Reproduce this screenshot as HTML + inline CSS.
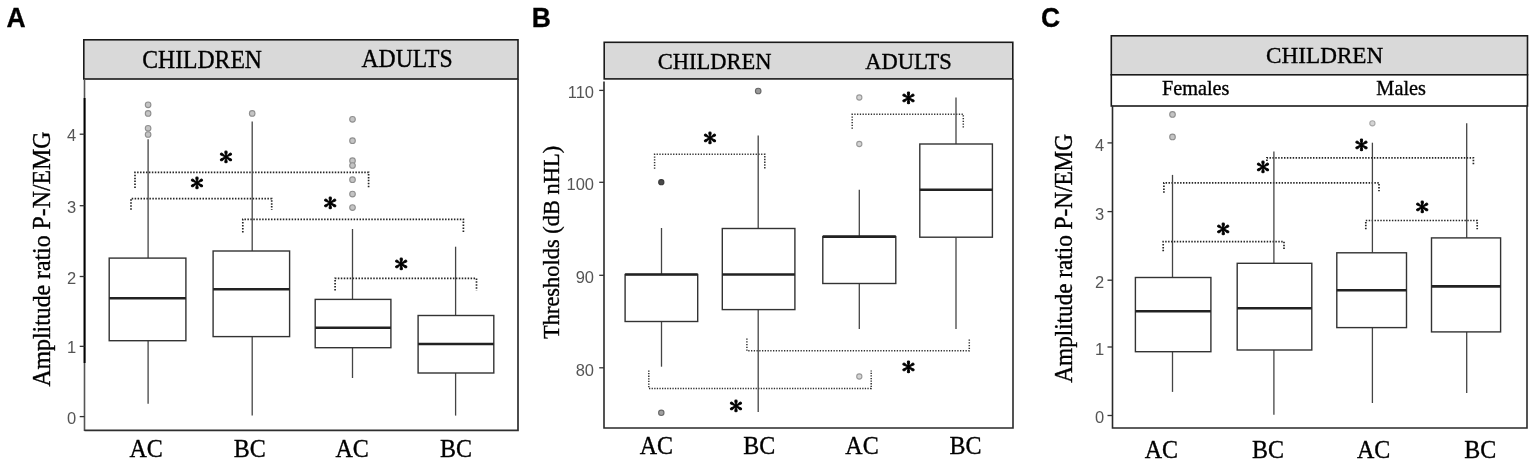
<!DOCTYPE html>
<html><head><meta charset="utf-8"><title>Figure</title>
<style>html,body{margin:0;padding:0;background:#fff;} svg{display:block;}</style></head>
<body>
<svg width="1535" height="464" viewBox="0 0 1535 464">
<rect width="1535" height="464" fill="#fff"/>
<text transform="translate(16.1,27.1) scale(1,1.05)" font-family="'Liberation Sans', Arial, sans-serif" font-size="26.5" text-anchor="middle" fill="#000" font-weight="bold" stroke="#000" stroke-width="0.3">A</text>
<rect x="83.8" y="39.8" width="434.2" height="39.2" fill="#d9d9d9" stroke="#1a1a1a" stroke-width="1.6"/>
<text transform="translate(202.1,67.6) scale(1,1.04)" font-family="'Liberation Serif', 'Times New Roman', serif" font-size="23.7" text-anchor="middle" fill="#000" font-weight="normal" stroke="#000" stroke-width="0.35">CHILDREN</text>
<text transform="translate(407.1,67.4) scale(1,1.04)" font-family="'Liberation Serif', 'Times New Roman', serif" font-size="23.7" text-anchor="middle" fill="#000" font-weight="normal" stroke="#000" stroke-width="0.35">ADULTS</text>
<line x1="84.5" y1="79" x2="84.5" y2="431" stroke="#555" stroke-width="1.6"/>
<path d="M84.5 430.3 L518 430.3 L518 79" fill="none" stroke="#2e2e2e" stroke-width="1.7"/>
<line x1="84.6" y1="98" x2="84.6" y2="363" stroke="#000" stroke-width="1.9"/>
<line x1="79.7" y1="416.6" x2="84.5" y2="416.6" stroke="#333" stroke-width="1.3"/>
<text x="76.3" y="423.6" font-family="'Liberation Sans', Arial, sans-serif" font-size="16.5" text-anchor="end" fill="#555" font-weight="normal">0</text>
<line x1="79.7" y1="346.35" x2="84.5" y2="346.35" stroke="#333" stroke-width="1.3"/>
<text x="76.3" y="353.35" font-family="'Liberation Sans', Arial, sans-serif" font-size="16.5" text-anchor="end" fill="#555" font-weight="normal">1</text>
<line x1="79.7" y1="276.5" x2="84.5" y2="276.5" stroke="#333" stroke-width="1.3"/>
<text x="76.3" y="283.5" font-family="'Liberation Sans', Arial, sans-serif" font-size="16.5" text-anchor="end" fill="#555" font-weight="normal">2</text>
<line x1="79.7" y1="205.7" x2="84.5" y2="205.7" stroke="#333" stroke-width="1.3"/>
<text x="76.3" y="212.7" font-family="'Liberation Sans', Arial, sans-serif" font-size="16.5" text-anchor="end" fill="#555" font-weight="normal">3</text>
<line x1="79.7" y1="134.2" x2="84.5" y2="134.2" stroke="#333" stroke-width="1.3"/>
<text x="76.3" y="141.2" font-family="'Liberation Sans', Arial, sans-serif" font-size="16.5" text-anchor="end" fill="#555" font-weight="normal">4</text>
<text transform="translate(50.4,259.15) rotate(-90) scale(1,1.07)" x="0" y="0" font-family="'Liberation Serif', 'Times New Roman', serif" font-size="23.8" text-anchor="middle" stroke="#000" stroke-width="0.35">Amplitude ratio P-N/EMG</text>
<path d="M135 188 L135 172.4 L368.6 172.4 L368.6 188" fill="none" stroke="#262626" stroke-width="1.7" stroke-dasharray="1.5 1.45"/>
<path d="M131 209.7 L131 198.6 L271.7 198.6 L271.7 209.7" fill="none" stroke="#262626" stroke-width="1.7" stroke-dasharray="1.5 1.45"/>
<path d="M242.8 232.4 L242.8 219.3 L463.4 219.3 L463.4 232.4" fill="none" stroke="#262626" stroke-width="1.7" stroke-dasharray="1.5 1.45"/>
<path d="M335.1 290.4 L335.1 278.4 L476.5 278.4 L476.5 290.4" fill="none" stroke="#262626" stroke-width="1.7" stroke-dasharray="1.5 1.45"/>
<line x1="148.1" y1="139.3" x2="148.1" y2="258.1" stroke="#444444" stroke-width="1.3"/>
<line x1="148.1" y1="340.7" x2="148.1" y2="403.8" stroke="#444444" stroke-width="1.3"/>
<rect x="109.2" y="258.1" width="76.7" height="82.59999999999997" fill="#fff" stroke="#333333" stroke-width="1.4"/>
<line x1="109.2" y1="298.2" x2="185.9" y2="298.2" stroke="#222" stroke-width="2.6"/>
<line x1="252.2" y1="121.4" x2="252.2" y2="251.0" stroke="#444444" stroke-width="1.3"/>
<line x1="252.2" y1="336.6" x2="252.2" y2="415.6" stroke="#444444" stroke-width="1.3"/>
<rect x="213.1" y="251.0" width="76.50000000000003" height="85.60000000000002" fill="#fff" stroke="#333333" stroke-width="1.4"/>
<line x1="213.1" y1="289.3" x2="289.6" y2="289.3" stroke="#222" stroke-width="2.6"/>
<line x1="352.5" y1="229" x2="352.5" y2="299.4" stroke="#444444" stroke-width="1.3"/>
<line x1="352.5" y1="347.7" x2="352.5" y2="378" stroke="#444444" stroke-width="1.3"/>
<rect x="315.2" y="299.4" width="75.69999999999999" height="48.30000000000001" fill="#fff" stroke="#333333" stroke-width="1.4"/>
<line x1="315.2" y1="327.8" x2="390.9" y2="327.8" stroke="#222" stroke-width="2.6"/>
<line x1="455.6" y1="246.7" x2="455.6" y2="315.5" stroke="#444444" stroke-width="1.3"/>
<line x1="455.6" y1="373" x2="455.6" y2="415.6" stroke="#444444" stroke-width="1.3"/>
<rect x="418.1" y="315.5" width="75.69999999999999" height="57.5" fill="#fff" stroke="#333333" stroke-width="1.4"/>
<line x1="418.1" y1="344" x2="493.8" y2="344" stroke="#222" stroke-width="2.6"/>
<circle cx="148.1" cy="104.8" r="2.8" fill="#c4c4c4" stroke="#8f8f8f" stroke-width="1.1"/>
<circle cx="148.1" cy="113.4" r="2.8" fill="#c4c4c4" stroke="#8f8f8f" stroke-width="1.1"/>
<circle cx="148.1" cy="128.3" r="2.8" fill="#c4c4c4" stroke="#8f8f8f" stroke-width="1.1"/>
<circle cx="148.1" cy="134.5" r="2.8" fill="#c4c4c4" stroke="#8f8f8f" stroke-width="1.1"/>
<circle cx="252.2" cy="113.4" r="2.8" fill="#c4c4c4" stroke="#8f8f8f" stroke-width="1.1"/>
<circle cx="352.5" cy="119.3" r="2.8" fill="#c4c4c4" stroke="#8f8f8f" stroke-width="1.1"/>
<circle cx="352.5" cy="140.7" r="2.8" fill="#c4c4c4" stroke="#8f8f8f" stroke-width="1.1"/>
<circle cx="352.5" cy="160.7" r="2.8" fill="#c4c4c4" stroke="#8f8f8f" stroke-width="1.1"/>
<circle cx="352.5" cy="165.5" r="2.8" fill="#c4c4c4" stroke="#8f8f8f" stroke-width="1.1"/>
<circle cx="352.5" cy="179.7" r="2.8" fill="#c4c4c4" stroke="#8f8f8f" stroke-width="1.1"/>
<circle cx="352.5" cy="194.1" r="2.8" fill="#c4c4c4" stroke="#8f8f8f" stroke-width="1.1"/>
<circle cx="352.5" cy="207.6" r="2.8" fill="#c4c4c4" stroke="#8f8f8f" stroke-width="1.1"/>
<text transform="translate(226,157.2) scale(1,0.9)" y="9.86" font-family="IPAGothic, sans-serif" font-size="27" text-anchor="middle" stroke="#000" stroke-width="0.9" stroke-linejoin="round">*</text>
<text transform="translate(197,183.4) scale(1,0.9)" y="9.86" font-family="IPAGothic, sans-serif" font-size="27" text-anchor="middle" stroke="#000" stroke-width="0.9" stroke-linejoin="round">*</text>
<text transform="translate(330.2,203.4) scale(1,0.9)" y="9.86" font-family="IPAGothic, sans-serif" font-size="27" text-anchor="middle" stroke="#000" stroke-width="0.9" stroke-linejoin="round">*</text>
<text transform="translate(401.2,264.4) scale(1,0.9)" y="9.86" font-family="IPAGothic, sans-serif" font-size="27" text-anchor="middle" stroke="#000" stroke-width="0.9" stroke-linejoin="round">*</text>
<text transform="translate(146.05,456.9) scale(1,1.01)" font-family="'Liberation Serif', 'Times New Roman', serif" font-size="24" text-anchor="middle" fill="#000" font-weight="normal" stroke="#000" stroke-width="0.35">AC</text>
<text transform="translate(249.75,456.9) scale(1,1.01)" font-family="'Liberation Serif', 'Times New Roman', serif" font-size="24" text-anchor="middle" fill="#000" font-weight="normal" stroke="#000" stroke-width="0.35">BC</text>
<text transform="translate(352.15,456.9) scale(1,1.01)" font-family="'Liberation Serif', 'Times New Roman', serif" font-size="24" text-anchor="middle" fill="#000" font-weight="normal" stroke="#000" stroke-width="0.35">AC</text>
<text transform="translate(456.05,456.9) scale(1,1.01)" font-family="'Liberation Serif', 'Times New Roman', serif" font-size="24" text-anchor="middle" fill="#000" font-weight="normal" stroke="#000" stroke-width="0.35">BC</text>
<text transform="translate(541.4,27.1) scale(1,1.05)" font-family="'Liberation Sans', Arial, sans-serif" font-size="26.5" text-anchor="middle" fill="#000" font-weight="bold" stroke="#000" stroke-width="0.3">B</text>
<rect x="604.2" y="42.3" width="408.6" height="36.6" fill="#d9d9d9" stroke="#1a1a1a" stroke-width="1.6"/>
<text transform="translate(714.55,68.8) scale(1,1.05)" font-family="'Liberation Serif', 'Times New Roman', serif" font-size="22.5" text-anchor="middle" fill="#000" font-weight="normal" stroke="#000" stroke-width="0.35">CHILDREN</text>
<text transform="translate(908.5,68.6) scale(1,1.05)" font-family="'Liberation Serif', 'Times New Roman', serif" font-size="22.5" text-anchor="middle" fill="#000" font-weight="normal" stroke="#000" stroke-width="0.35">ADULTS</text>
<path d="M604 81.5 L604 428 L1013 428 L1013 79" fill="none" stroke="#2a2a2a" stroke-width="1.6"/>
<line x1="599.2" y1="367.8" x2="604" y2="367.8" stroke="#333" stroke-width="1.3"/>
<text x="594" y="375.6" font-family="'Liberation Sans', Arial, sans-serif" font-size="16.5" text-anchor="end" fill="#555" font-weight="normal">80</text>
<line x1="599.2" y1="275.3" x2="604" y2="275.3" stroke="#333" stroke-width="1.3"/>
<text x="594" y="283.1" font-family="'Liberation Sans', Arial, sans-serif" font-size="16.5" text-anchor="end" fill="#555" font-weight="normal">90</text>
<line x1="599.2" y1="182.3" x2="604" y2="182.3" stroke="#333" stroke-width="1.3"/>
<text x="594" y="190.10000000000002" font-family="'Liberation Sans', Arial, sans-serif" font-size="16.5" text-anchor="end" fill="#555" font-weight="normal">100</text>
<line x1="599.2" y1="90.4" x2="604" y2="90.4" stroke="#333" stroke-width="1.3"/>
<text x="594" y="98.2" font-family="'Liberation Sans', Arial, sans-serif" font-size="16.5" text-anchor="end" fill="#555" font-weight="normal">110</text>
<text transform="translate(558.7,242.4) rotate(-90)" x="0" y="0" font-family="'Liberation Serif', 'Times New Roman', serif" font-size="22.45" text-anchor="middle" stroke="#000" stroke-width="0.35">Thresholds (dB nHL)</text>
<path d="M654.6 168.8 L654.6 154.3 L764.8 154.3 L764.8 168.8" fill="none" stroke="#333" stroke-width="1.5" stroke-dasharray="1.3 1.45"/>
<path d="M852.2 128.7 L852.2 114.3 L963.3 114.3 L963.3 128.7" fill="none" stroke="#333" stroke-width="1.5" stroke-dasharray="1.3 1.45"/>
<path d="M648.8 370.4 L648.8 388.4 L871.2 388.4 L871.2 370.4" fill="none" stroke="#333" stroke-width="1.5" stroke-dasharray="1.3 1.3"/>
<path d="M746.9 338.4 L746.9 350.8 L969.3 350.8 L969.3 338.4" fill="none" stroke="#333" stroke-width="1.5" stroke-dasharray="1.3 1.45"/>
<line x1="661.5" y1="228" x2="661.5" y2="274.5" stroke="#444444" stroke-width="1.3"/>
<line x1="661.5" y1="321.5" x2="661.5" y2="366.7" stroke="#444444" stroke-width="1.3"/>
<rect x="625.1" y="274.5" width="72.60000000000002" height="47.0" fill="#fff" stroke="#333333" stroke-width="1.4"/>
<line x1="625.1" y1="274.5" x2="697.7" y2="274.5" stroke="#222" stroke-width="2.6"/>
<line x1="758.2" y1="135.5" x2="758.2" y2="228.5" stroke="#444444" stroke-width="1.3"/>
<line x1="758.2" y1="309.6" x2="758.2" y2="412" stroke="#444444" stroke-width="1.3"/>
<rect x="722.3" y="228.5" width="72.60000000000002" height="81.10000000000002" fill="#fff" stroke="#333333" stroke-width="1.4"/>
<line x1="722.3" y1="274.5" x2="794.9" y2="274.5" stroke="#222" stroke-width="2.6"/>
<line x1="859.3" y1="189.8" x2="859.3" y2="236.6" stroke="#444444" stroke-width="1.3"/>
<line x1="859.3" y1="283.5" x2="859.3" y2="329" stroke="#444444" stroke-width="1.3"/>
<rect x="822.8" y="236.6" width="73.0" height="46.900000000000006" fill="#fff" stroke="#333333" stroke-width="1.4"/>
<line x1="822.8" y1="236.6" x2="895.8" y2="236.6" stroke="#222" stroke-width="2.6"/>
<line x1="956" y1="97.5" x2="956" y2="144" stroke="#444444" stroke-width="1.3"/>
<line x1="956" y1="237.2" x2="956" y2="329" stroke="#444444" stroke-width="1.3"/>
<rect x="919.8" y="144" width="72.60000000000002" height="93.19999999999999" fill="#fff" stroke="#333333" stroke-width="1.4"/>
<line x1="919.8" y1="189.8" x2="992.4" y2="189.8" stroke="#222" stroke-width="2.6"/>
<circle cx="661.3" cy="182.2" r="2.6" fill="#4a4a4a" stroke="#3a3a3a" stroke-width="1.1"/>
<circle cx="661.3" cy="412.8" r="2.7" fill="#a0a0a0" stroke="#686868" stroke-width="1.1"/>
<circle cx="758.2" cy="91.0" r="2.8" fill="#999" stroke="#666" stroke-width="1.1"/>
<circle cx="859.3" cy="97.5" r="2.6" fill="#d4d4d4" stroke="#999" stroke-width="1.1"/>
<circle cx="859.3" cy="144" r="2.6" fill="#d4d4d4" stroke="#999" stroke-width="1.1"/>
<circle cx="859.3" cy="376.5" r="2.6" fill="#d4d4d4" stroke="#999" stroke-width="1.1"/>
<text transform="translate(710,138.1) scale(1,0.9)" y="9.86" font-family="IPAGothic, sans-serif" font-size="27" text-anchor="middle" stroke="#000" stroke-width="0.9" stroke-linejoin="round">*</text>
<text transform="translate(908.4,98.2) scale(1,0.9)" y="9.86" font-family="IPAGothic, sans-serif" font-size="27" text-anchor="middle" stroke="#000" stroke-width="0.9" stroke-linejoin="round">*</text>
<text transform="translate(736,406.5) scale(1,0.9)" y="9.86" font-family="IPAGothic, sans-serif" font-size="27" text-anchor="middle" stroke="#000" stroke-width="0.9" stroke-linejoin="round">*</text>
<text transform="translate(908.5,367.6) scale(1,0.9)" y="9.86" font-family="IPAGothic, sans-serif" font-size="27" text-anchor="middle" stroke="#000" stroke-width="0.9" stroke-linejoin="round">*</text>
<text transform="translate(656.4,453.9) scale(1,1.02)" font-family="'Liberation Serif', 'Times New Roman', serif" font-size="24" text-anchor="middle" fill="#000" font-weight="normal" stroke="#000" stroke-width="0.35">AC</text>
<text transform="translate(759.25,453.9) scale(1,1.02)" font-family="'Liberation Serif', 'Times New Roman', serif" font-size="24" text-anchor="middle" fill="#000" font-weight="normal" stroke="#000" stroke-width="0.35">BC</text>
<text transform="translate(862,453.9) scale(1,1.02)" font-family="'Liberation Serif', 'Times New Roman', serif" font-size="24" text-anchor="middle" fill="#000" font-weight="normal" stroke="#000" stroke-width="0.35">AC</text>
<text transform="translate(965.6,453.9) scale(1,1.02)" font-family="'Liberation Serif', 'Times New Roman', serif" font-size="24" text-anchor="middle" fill="#000" font-weight="normal" stroke="#000" stroke-width="0.35">BC</text>
<text transform="translate(1050.6,27.1) scale(1,1.05)" font-family="'Liberation Sans', Arial, sans-serif" font-size="26.5" text-anchor="middle" fill="#000" font-weight="bold" stroke="#000" stroke-width="0.3">C</text>
<rect x="1111.3" y="35.8" width="416.2" height="39.0" fill="#d9d9d9" stroke="#1a1a1a" stroke-width="1.6"/>
<rect x="1111.3" y="74.8" width="416.2" height="31.2" fill="#fff" stroke="#1a1a1a" stroke-width="1.6"/>
<text transform="translate(1324.65,63.1) scale(1,1.04)" font-family="'Liberation Serif', 'Times New Roman', serif" font-size="23.2" text-anchor="middle" fill="#000" font-weight="normal" stroke="#000" stroke-width="0.35">CHILDREN</text>
<text x="1195.7" y="95.0" font-family="'Liberation Serif', 'Times New Roman', serif" font-size="20.3" text-anchor="middle" fill="#000" font-weight="normal" stroke="#000" stroke-width="0.35">Females</text>
<text x="1401.15" y="95.0" font-family="'Liberation Serif', 'Times New Roman', serif" font-size="20.3" text-anchor="middle" fill="#000" font-weight="normal" stroke="#000" stroke-width="0.35">Males</text>
<path d="M1112.5 106 L1112.5 428 L1527 428 L1527 106" fill="none" stroke="#2a2a2a" stroke-width="1.6"/>
<line x1="1107.5" y1="415.5" x2="1112.3" y2="415.5" stroke="#333" stroke-width="1.3"/>
<text x="1104.2" y="423.4" font-family="'Liberation Sans', Arial, sans-serif" font-size="16.5" text-anchor="end" fill="#555" font-weight="normal">0</text>
<line x1="1107.5" y1="347.0" x2="1112.3" y2="347.0" stroke="#333" stroke-width="1.3"/>
<text x="1104.2" y="354.9" font-family="'Liberation Sans', Arial, sans-serif" font-size="16.5" text-anchor="end" fill="#555" font-weight="normal">1</text>
<line x1="1107.5" y1="280.2" x2="1112.3" y2="280.2" stroke="#333" stroke-width="1.3"/>
<text x="1104.2" y="288.09999999999997" font-family="'Liberation Sans', Arial, sans-serif" font-size="16.5" text-anchor="end" fill="#555" font-weight="normal">2</text>
<line x1="1107.5" y1="211.6" x2="1112.3" y2="211.6" stroke="#333" stroke-width="1.3"/>
<text x="1104.2" y="219.5" font-family="'Liberation Sans', Arial, sans-serif" font-size="16.5" text-anchor="end" fill="#555" font-weight="normal">3</text>
<line x1="1107.5" y1="142.9" x2="1112.3" y2="142.9" stroke="#333" stroke-width="1.3"/>
<text x="1104.2" y="150.8" font-family="'Liberation Sans', Arial, sans-serif" font-size="16.5" text-anchor="end" fill="#555" font-weight="normal">4</text>
<text transform="translate(1072.4,258.35) rotate(-90) scale(1,1.07)" x="0" y="0" font-family="'Liberation Serif', 'Times New Roman', serif" font-size="23.2" text-anchor="middle" stroke="#000" stroke-width="0.35">Amplitude ratio P-N/EMG</text>
<path d="M1163.9 192.8 L1163.9 182.9 L1379.0 182.9 L1379.0 192.8" fill="none" stroke="#262626" stroke-width="1.7" stroke-dasharray="1.45 1.45"/>
<path d="M1266.9 161 L1266.9 157.8 L1473.4 157.8 L1473.4 165" fill="none" stroke="#262626" stroke-width="1.7" stroke-dasharray="1.45 1.45"/>
<path d="M1163.2 251.3 L1163.2 241.7 L1284.0 241.7 L1284.0 250.4" fill="none" stroke="#262626" stroke-width="1.7" stroke-dasharray="1.45 1.45"/>
<path d="M1365.8 229.2 L1365.8 220.5 L1477.2 220.5 L1477.2 229.2" fill="none" stroke="#262626" stroke-width="1.7" stroke-dasharray="1.45 1.45"/>
<line x1="1172.5" y1="174.9" x2="1172.5" y2="277.5" stroke="#444444" stroke-width="1.3"/>
<line x1="1172.5" y1="351.7" x2="1172.5" y2="391.9" stroke="#444444" stroke-width="1.3"/>
<rect x="1135.4" y="277.5" width="75.5" height="74.19999999999999" fill="#fff" stroke="#333333" stroke-width="1.4"/>
<line x1="1135.4" y1="311.2" x2="1210.9" y2="311.2" stroke="#222" stroke-width="2.6"/>
<line x1="1273.9" y1="151.6" x2="1273.9" y2="263.3" stroke="#444444" stroke-width="1.3"/>
<line x1="1273.9" y1="350" x2="1273.9" y2="414.7" stroke="#444444" stroke-width="1.3"/>
<rect x="1237.2" y="263.3" width="74.59999999999991" height="86.69999999999999" fill="#fff" stroke="#333333" stroke-width="1.4"/>
<line x1="1237.2" y1="308.2" x2="1311.8" y2="308.2" stroke="#222" stroke-width="2.6"/>
<line x1="1372.4" y1="142.7" x2="1372.4" y2="252.8" stroke="#444444" stroke-width="1.3"/>
<line x1="1372.4" y1="327.6" x2="1372.4" y2="403" stroke="#444444" stroke-width="1.3"/>
<rect x="1336.8" y="252.8" width="69.70000000000005" height="74.80000000000001" fill="#fff" stroke="#333333" stroke-width="1.4"/>
<line x1="1336.8" y1="290.2" x2="1406.5" y2="290.2" stroke="#222" stroke-width="2.6"/>
<line x1="1466.7" y1="123.3" x2="1466.7" y2="237.9" stroke="#444444" stroke-width="1.3"/>
<line x1="1466.7" y1="331.9" x2="1466.7" y2="393.1" stroke="#444444" stroke-width="1.3"/>
<rect x="1431.5" y="237.9" width="69.09999999999991" height="93.99999999999997" fill="#fff" stroke="#333333" stroke-width="1.4"/>
<line x1="1431.5" y1="286.4" x2="1500.6" y2="286.4" stroke="#222" stroke-width="2.6"/>
<circle cx="1172.5" cy="114.4" r="2.8" fill="#c4c4c4" stroke="#8f8f8f" stroke-width="1.1"/>
<circle cx="1172.5" cy="136.9" r="2.8" fill="#c4c4c4" stroke="#8f8f8f" stroke-width="1.1"/>
<circle cx="1372.4" cy="123.3" r="2.6" fill="#d4d4d4" stroke="#a8a8a8" stroke-width="1.1"/>
<text transform="translate(1263.0,167.6) scale(1,0.9)" y="9.86" font-family="IPAGothic, sans-serif" font-size="27" text-anchor="middle" stroke="#000" stroke-width="0.9" stroke-linejoin="round">*</text>
<text transform="translate(1223.2,228.9) scale(1,0.9)" y="9.86" font-family="IPAGothic, sans-serif" font-size="27" text-anchor="middle" stroke="#000" stroke-width="0.9" stroke-linejoin="round">*</text>
<text transform="translate(1361.4,144.8) scale(1,0.9)" y="9.86" font-family="IPAGothic, sans-serif" font-size="27" text-anchor="middle" stroke="#000" stroke-width="0.9" stroke-linejoin="round">*</text>
<text transform="translate(1422.2,207.4) scale(1,0.9)" y="9.86" font-family="IPAGothic, sans-serif" font-size="27" text-anchor="middle" stroke="#000" stroke-width="0.9" stroke-linejoin="round">*</text>
<text transform="translate(1161.45,458) scale(1,1.01)" font-family="'Liberation Serif', 'Times New Roman', serif" font-size="24" text-anchor="middle" fill="#000" font-weight="normal" stroke="#000" stroke-width="0.35">AC</text>
<text transform="translate(1268.05,458) scale(1,1.01)" font-family="'Liberation Serif', 'Times New Roman', serif" font-size="24" text-anchor="middle" fill="#000" font-weight="normal" stroke="#000" stroke-width="0.35">BC</text>
<text transform="translate(1373.65,458) scale(1,1.01)" font-family="'Liberation Serif', 'Times New Roman', serif" font-size="24" text-anchor="middle" fill="#000" font-weight="normal" stroke="#000" stroke-width="0.35">AC</text>
<text transform="translate(1480.3,458) scale(1,1.01)" font-family="'Liberation Serif', 'Times New Roman', serif" font-size="24" text-anchor="middle" fill="#000" font-weight="normal" stroke="#000" stroke-width="0.35">BC</text>
</svg>
</body></html>
